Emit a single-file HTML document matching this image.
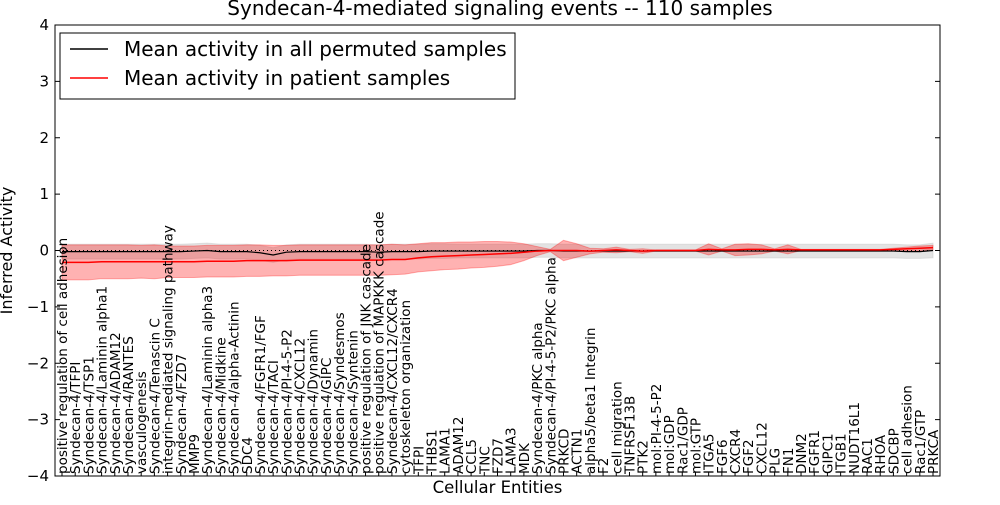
<!DOCTYPE html>
<html><head><meta charset="utf-8"><style>
body{margin:0;background:#fff;}
svg text{font-family:"DejaVu Sans","Liberation Sans",sans-serif;}
</style></head><body>
<svg id="chart" width="1000" height="500" xmlns="http://www.w3.org/2000/svg">
<text x="500" y="15" font-size="20" text-anchor="middle">Syndecan-4-mediated signaling events -- 110 samples</text>
<g id="plot"></g>
</svg>
<script>
const categories=["positive regulation of cell adhesion","Syndecan-4/TFPI","Syndecan-4/TSP1","Syndecan-4/Laminin alpha1","Syndecan-4/ADAM12","Syndecan-4/RANTES","vasculogenesis","Syndecan-4/Tenascin C","integrin-mediated signaling pathway","Syndecan-4/FZD7","MMP9","Syndecan-4/Laminin alpha3","Syndecan-4/Midkine","Syndecan-4/alpha-Actinin","SDC4","Syndecan-4/FGFR1/FGF","Syndecan-4/TACI","Syndecan-4/PI-4-5-P2","Syndecan-4/CXCL12","Syndecan-4/Dynamin","Syndecan-4/GIPC","Syndecan-4/Syndesmos","Syndecan-4/Syntenin","positive regulation of JNK cascade","positive regulation of MAPKKK cascade","Syndecan-4/CXCL12/CXCR4","cytoskeleton organization","TFPI","THBS1","LAMA1","ADAM12","CCL5","TNC","FZD7","LAMA3","MDK","Syndecan-4/PKC alpha","Syndecan-4/PI-4-5-P2/PKC alpha","PRKCD","ACTN1","alpha5/beta1 Integrin","F2","cell migration","TNFRSF13B","PTK2","mol:PI-4-5-P2","mol:GDP","Rac1/GDP","mol:GTP","ITGA5","FGF6","CXCR4","FGF2","CXCL12","PLG","FN1","DNM2","FGFR1","GIPC1","ITGB1","NUDT16L1","RAC1","RHOA","SDCBP","cell adhesion","Rac1/GTP","PRKCA"];
const patientMean=[-0.21,-0.21,-0.21,-0.2,-0.2,-0.2,-0.2,-0.2,-0.2,-0.2,-0.2,-0.19,-0.19,-0.19,-0.18,-0.18,-0.18,-0.18,-0.17,-0.17,-0.17,-0.17,-0.17,-0.17,-0.17,-0.16,-0.16,-0.13,-0.11,-0.1,-0.09,-0.08,-0.07,-0.06,-0.05,-0.03,-0.01,0,0,0,-0.01,0,0.01,0,-0.01,0,0,0,0,0.02,0.01,0.01,0.02,0.02,0.01,0.02,0.01,0.01,0.01,0.01,0.01,0.01,0.01,0.02,0.03,0.04,0.05];
const patientSpread=[0.31,0.31,0.31,0.3,0.3,0.3,0.29,0.3,0.28,0.28,0.28,0.28,0.28,0.28,0.28,0.28,0.27,0.27,0.27,0.27,0.27,0.27,0.27,0.27,0.27,0.27,0.26,0.25,0.25,0.24,0.24,0.23,0.23,0.22,0.2,0.15,0.08,0.02,0.18,0.12,0.05,0.03,0.05,0.02,0.04,0.01,0.01,0.01,0.01,0.1,0.02,0.1,0.1,0.08,0.02,0.08,0.01,0.01,0.01,0.01,0.01,0.01,0.01,0.02,0.03,0.04,0.04];
const permutedMean=[-0.02,-0.02,-0.02,-0.02,-0.02,-0.02,-0.02,-0.02,-0.02,-0.02,-0.01,0,-0.02,-0.02,-0.02,-0.04,-0.08,-0.03,-0.02,-0.02,-0.02,-0.02,-0.02,-0.02,-0.03,-0.02,-0.02,-0.02,-0.01,-0.01,-0.01,-0.01,-0.01,-0.01,-0.01,-0.01,0,0,-0.01,-0.01,-0.01,-0.01,-0.01,-0.01,-0.01,-0.01,-0.01,-0.01,-0.01,-0.01,-0.01,-0.01,-0.01,-0.01,-0.01,-0.01,-0.01,-0.01,-0.01,-0.01,-0.01,-0.01,-0.01,-0.01,-0.02,-0.02,0];
const permutedSpread=[0.13,0.13,0.13,0.13,0.13,0.13,0.13,0.13,0.13,0.13,0.13,0.13,0.13,0.13,0.13,0.13,0.13,0.13,0.13,0.13,0.13,0.13,0.13,0.13,0.13,0.13,0.13,0.13,0.13,0.13,0.12,0.12,0.12,0.12,0.12,0.12,0.12,0.12,0.12,0.12,0.12,0.12,0.12,0.12,0.12,0.12,0.12,0.12,0.12,0.12,0.12,0.12,0.12,0.12,0.12,0.12,0.12,0.12,0.12,0.12,0.12,0.12,0.12,0.12,0.12,0.12,0.13];
const yTicks=[4,3,2,1,0,-1,-2,-3,-4];
const yTickLabels=["4","3","2","1","0","\u22121","\u22122","\u22123","\u22124"];

const NS="http://www.w3.org/2000/svg";
const L=55,R=940,T=25,B=476;
const x=i=>62+i*(933-62)/(categories.length-1);
const y=v=>T+(4-v)*(B-T)/8;
const g=document.getElementById('plot');
function mk(tag,attrs){const e=document.createElementNS(NS,tag);for(const k in attrs)e.setAttribute(k,attrs[k]);g.appendChild(e);return e;}
function band(mean,spread,fill,op,name){
  let d="M";
  mean.forEach((m,i)=>{d+=x(i)+","+y(m+spread[i])+" L";});
  for(let i=mean.length-1;i>=0;i--){d+=x(i)+","+y(mean[i]-spread[i])+(i?" L":" Z");}
  const p=mk('path',{d:d,fill:fill,'fill-opacity':op,stroke:fill,'stroke-opacity':op,'stroke-width':1});
  
  
}
function line(arr,color,w,name){
  const p=mk('polyline',{points:arr.map((m,i)=>x(i)+","+y(m)).join(" "),fill:'none',stroke:color,'stroke-width':w});
  
  
}
band(permutedMean,permutedSpread,'#c8c8c8',0.5,'permuted-band');
band(patientMean,patientSpread,'#ff0000',0.3,'patient-band');
const z=mk('line',{x1:L,x2:R,y1:y(0),y2:y(0),stroke:'#000','stroke-dasharray':'1,3','stroke-width':1});


line(permutedMean,'#000',1.2,'permuted-mean-line');
line(patientMean,'#ff0000',1.5,'patient-mean-line');
const fr=mk('rect',{x:L,y:T,width:R-L,height:B-T,fill:'none',stroke:'#000','stroke-width':1});


yTicks.forEach((v,k)=>{
  const t1=mk('line',{x1:L,x2:L+5,y1:y(v),y2:y(v),stroke:'#000'});
  
  
  const t2=mk('line',{x1:R-5,x2:R,y1:y(v),y2:y(v),stroke:'#000'});
  
  
  const tl=mk('text',{x:L-6,y:y(v)+5,'font-size':15,'text-anchor':'end'});
  tl.textContent=yTickLabels[k];
  
  
});
categories.forEach((c,i)=>{
  const tk=mk('line',{x1:x(i),x2:x(i),y1:B,y2:B-4,stroke:'#000'});
  
  
  const t=mk('text',{transform:`translate(${x(i)+5},${B-2}) rotate(-90)`,'font-size':13.5});
  t.textContent=c;
  
  
});
const yt=mk('text',{transform:`translate(12,${(T+B)/2}) rotate(-90)`,'font-size':16,'text-anchor':'middle'});
yt.textContent="Inferred Activity";


const xt=mk('text',{x:(L+R)/2,y:493,'font-size':16.5,'text-anchor':'middle'});
xt.textContent="Cellular Entities";


const lg=mk('rect',{x:60,y:33,width:455,height:66,fill:'#fff',stroke:'#000'});


[["Mean activity in all permuted samples","#000",49],["Mean activity in patient samples","#ff0000",78]].forEach(([s,c,yy])=>{
  const l=mk('line',{x1:70,x2:108,y1:yy,y2:yy,stroke:c,'stroke-width':1.5});
  
  
  const t=mk('text',{x:124,y:yy+7,'font-size':20});
  t.textContent=s;
  
  
});
</script>
</body></html>
